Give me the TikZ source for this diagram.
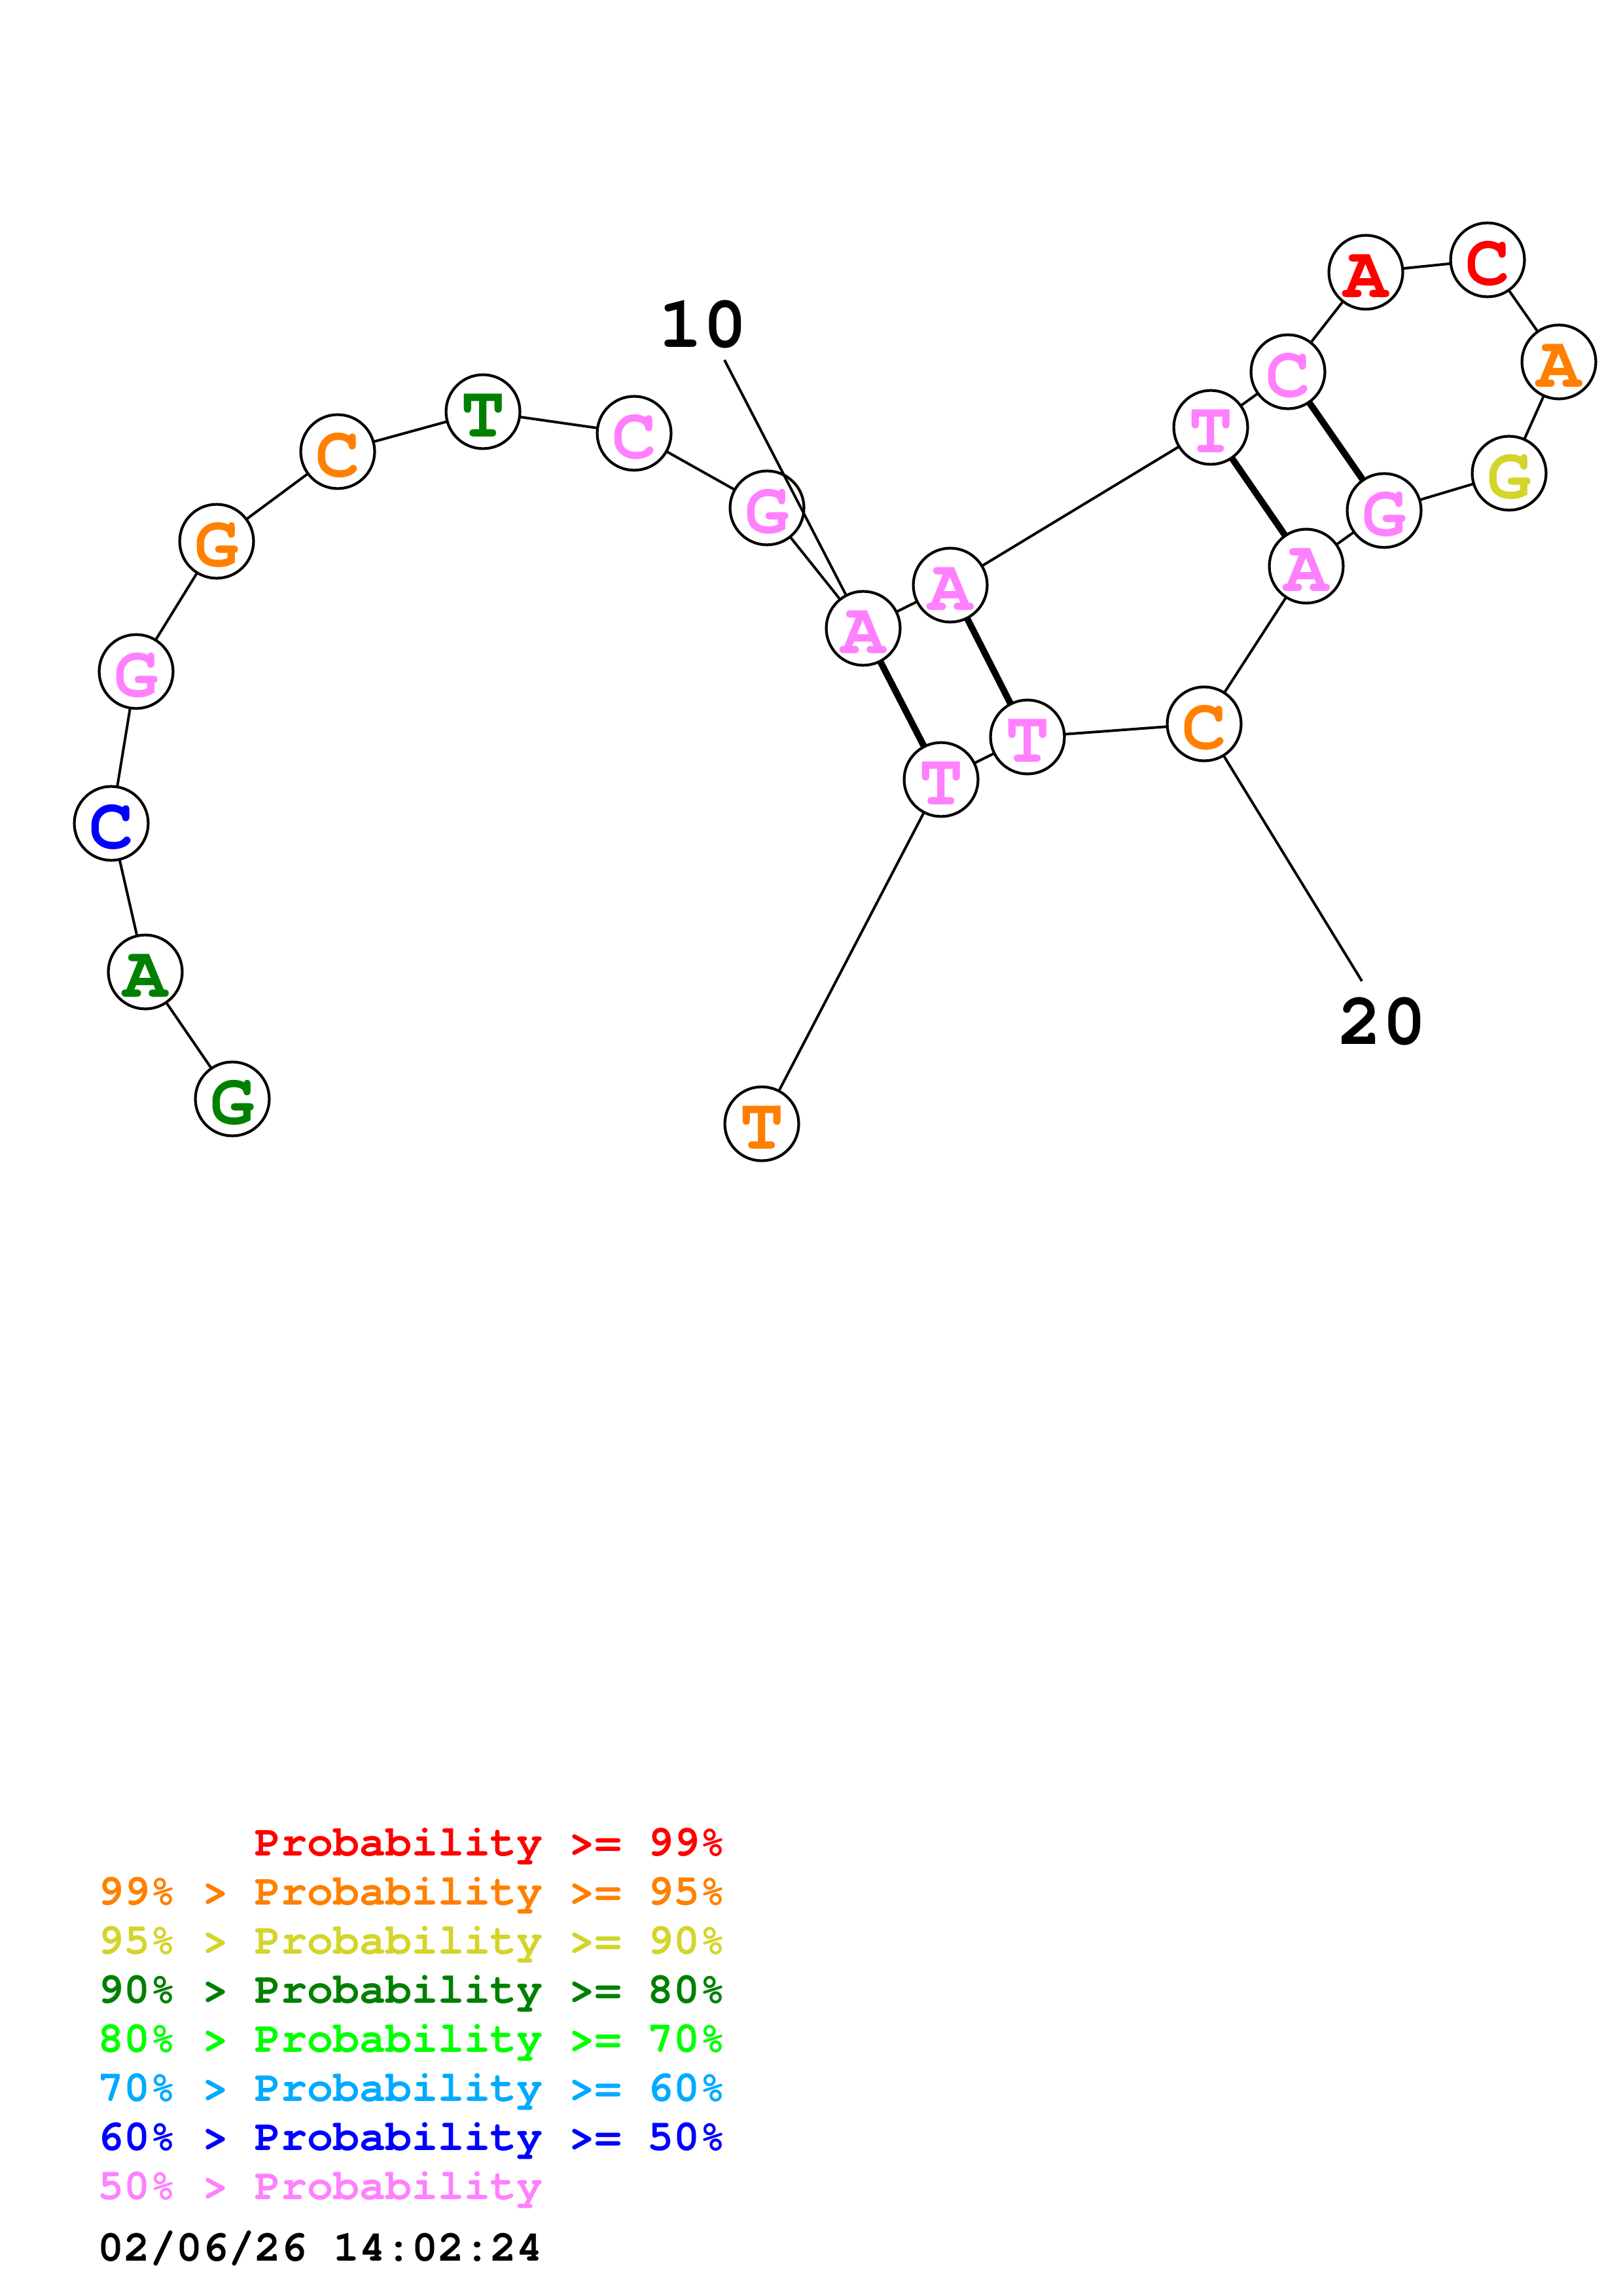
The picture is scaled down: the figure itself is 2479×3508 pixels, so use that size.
\documentclass[tikz,border=0pt]{standalone}
\usepackage{fontspec}
\setmainfont{texgyrecursor}[Extension=.otf,UprightFont=*-regular,BoldFont=*-bold]
\usetikzlibrary{backgrounds}
\definecolor{cRed}{RGB}{255,0,0}
\definecolor{cOrange}{RGB}{255,128,0}
\definecolor{cYellow}{RGB}{212,212,42}
\definecolor{cDkGreen}{RGB}{0,128,0}
\definecolor{cGreen}{RGB}{0,255,0}
\definecolor{cSky}{RGB}{0,170,255}
\definecolor{cBlue}{RGB}{0,0,255}
\definecolor{cPink}{RGB}{255,128,255}
\newcommand\ntxt[1]{\raisebox{-1.4pt}[\height][\depth]{#1}}
\begin{document}
\begin{tikzpicture}[x=0.24pt,y=-0.24pt,
 nt/.style={circle,draw=black,fill=white,line width=1.0pt,minimum size=27.1pt,inner sep=0pt,font=\fontsize{27}{27}\selectfont\bfseries},
 bb/.style={line width=0.95pt},
 pairline/.style={line width=2.4pt},
 numlab/.style={font=\fontsize{27}{27}\selectfont\bfseries,inner sep=0pt},
 leg/.style={font=\fontsize{16}{16}\selectfont\bfseries,anchor=base west,inner sep=0pt}]
\useasboundingbox (0,0) rectangle (2479,3508);
% nucleotides
\node[nt,text=cDkGreen] (n1) at (355,1679) {\ntxt{G}};
\node[nt,text=cDkGreen] (n2) at (222,1485) {\ntxt{A}};
\node[nt,text=cBlue] (n3) at (170,1258) {\ntxt{C}};
\node[nt,text=cPink] (n4) at (208,1026) {\ntxt{G}};
\node[nt,text=cOrange] (n5) at (331,827) {\ntxt{G}};
\node[nt,text=cOrange] (n6) at (516,690) {\ntxt{C}};
\node[nt,text=cDkGreen] (n7) at (738,629) {\ntxt{T}};
\node[nt,text=cPink] (n8) at (969,662) {\ntxt{C}};
\node[nt,text=cPink] (n9) at (1172,776) {\ntxt{G}};
\node[nt,text=cPink] (n10) at (1319,960) {\ntxt{A}};
\node[nt,text=cPink] (n11) at (1452,894) {\ntxt{A}};
\node[nt,text=cPink] (n12) at (1850,653) {\ntxt{T}};
\node[nt,text=cPink] (n13) at (1968,568) {\ntxt{C}};
\node[nt,text=cRed] (n14) at (2087,416) {\ntxt{A}};
\node[nt,text=cRed] (n15) at (2273,397) {\ntxt{C}};
\node[nt,text=cOrange] (n16) at (2382,553) {\ntxt{A}};
\node[nt,text=cYellow] (n17) at (2306,723) {\ntxt{G}};
\node[nt,text=cPink] (n18) at (2115,780) {\ntxt{G}};
\node[nt,text=cPink] (n19) at (1996,865) {\ntxt{A}};
\node[nt,text=cOrange] (n20) at (1840,1106) {\ntxt{C}};
\node[nt,text=cPink] (n21) at (1570,1126) {\ntxt{T}};
\node[nt,text=cPink] (n22) at (1438,1191) {\ntxt{T}};
\node[nt,text=cOrange] (n23) at (1164,1717) {\ntxt{T}};
% backbone and pairs
\begin{scope}[on background layer]
\fill[white] (0,0) rectangle (2479,3508);
\foreach \a/\b in {1/2,2/3,3/4,4/5,5/6,6/7,7/8,8/9,9/10,10/11,11/12,12/13,13/14,14/15,15/16,16/17,17/18,18/19,19/20,20/21,21/22,22/23}
  \draw[bb] (n\a.center) -- (n\b.center);
\foreach \a/\b in {10/22,11/21,12/19,13/18}
  \draw[pairline] (n\a.center) -- (n\b.center);
\end{scope}
% position labels
\node[numlab] (lab10) at (1074,495) {10};
\node[numlab] (lab20) at (2112,1560) {20};
\coordinate (t10) at (1107,550);
\coordinate (t20) at (2081,1499);
\draw[bb] (t10) -- (n10);
\draw[bb] (n20) -- (t20);
% legend
\node[leg,text=cRed] (g1) at (149,2835) {\phantom{99\% > }Probability >= 99\%};
\node[leg,text=cOrange] (g2) at (149,2910) {99\% > Probability >= 95\%};
\node[leg,text=cYellow] (g3) at (149,2985) {95\% > Probability >= 90\%};
\node[leg,text=cDkGreen] (g4) at (149,3060) {90\% > Probability >= 80\%};
\node[leg,text=cGreen] (g5) at (149,3135) {80\% > Probability >= 70\%};
\node[leg,text=cSky] (g6) at (149,3210) {70\% > Probability >= 60\%};
\node[leg,text=cBlue] (g7) at (149,3285) {60\% > Probability >= 50\%};
\node[leg,text=cPink] (g8) at (149,3360) {50\% > Probability};
\node[leg,text=black] (date) at (149,3454) {02/06/26 14:02:24};
\end{tikzpicture}
\end{document}
